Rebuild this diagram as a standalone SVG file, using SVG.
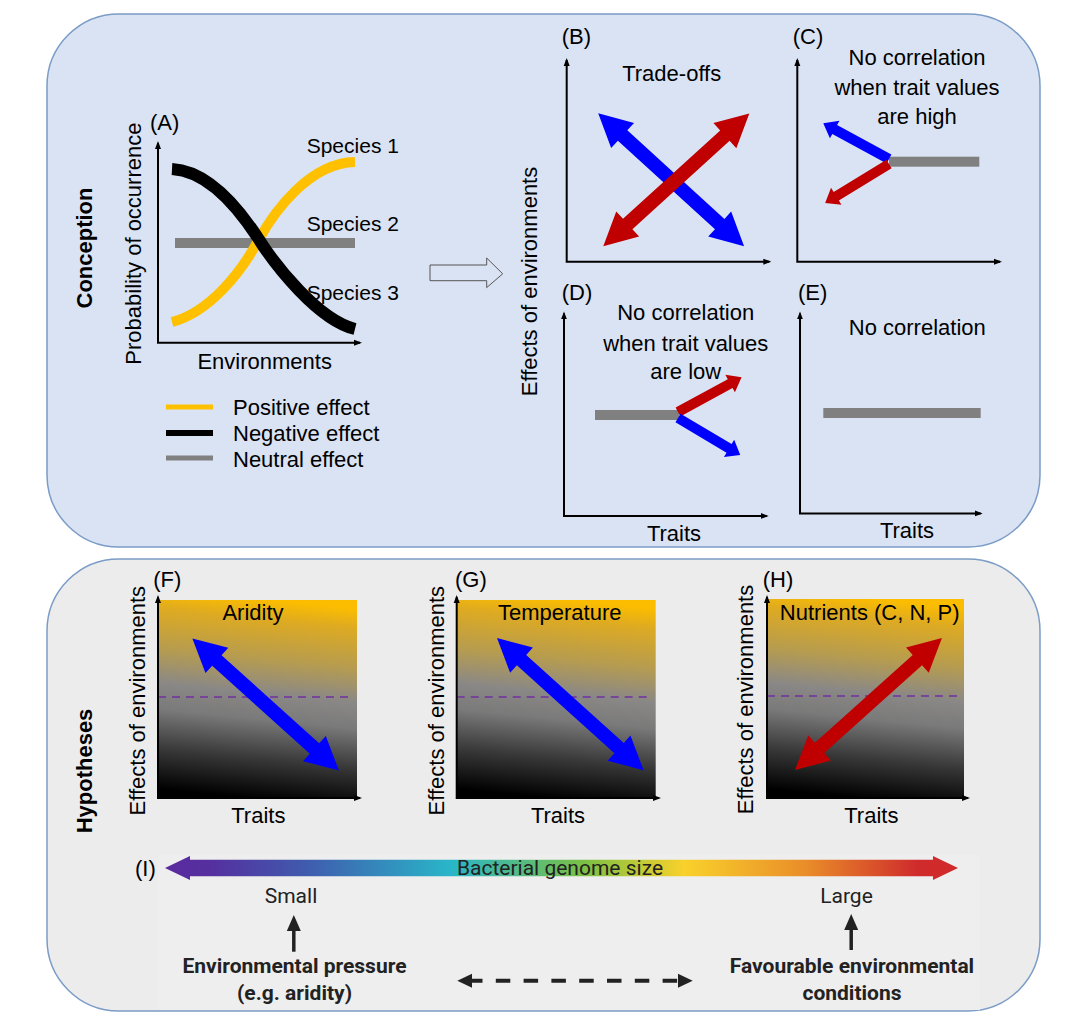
<svg xmlns="http://www.w3.org/2000/svg" xmlns:xlink="http://www.w3.org/1999/xlink" width="1080" height="1026" viewBox="0 0 1080 1026">
<style>
.t{font-family:"Liberation Sans",Arial,sans-serif;font-size:22px;fill:#000}
.m{text-anchor:middle}
.b{font-weight:bold}
.r{font-family:Roboto,"Liberation Sans",sans-serif;font-size:21px;fill:#222}
.ax{stroke:#000;stroke-width:2;fill:none;marker-start:url(#axh);marker-end:url(#axh)}
.blue{fill:#0000ff}
.red{fill:#c00000}
.gray{fill:#808080}
.dash{stroke:#7030a0;stroke-width:1.5;stroke-dasharray:8 6;fill:none}
</style>
<defs>
<marker id="axh" viewBox="0 0 8 8" refX="6" refY="4" markerWidth="8" markerHeight="8" markerUnits="userSpaceOnUse" orient="auto-start-reverse">
<path d="M0,1 L8,4 L0,7 z" fill="#000"/>
</marker>
<polygon id="dbl" points="-98.7,0 -65.7,-17 -65.7,-7 65.7,-7 65.7,-17 98.7,0 65.7,17 65.7,7 -65.7,7 -65.7,17"/>
<polygon id="sgC" points="0,-5 61.8,-5 61.8,-10 74.8,0 61.8,10 61.8,5 0,5"/>
<polygon id="sgD" points="0,-5 59.4,-5 59.4,-10 72.4,0 59.4,10 59.4,5 0,5"/>
<linearGradient id="env" x1="0.56" y1="0" x2="0.46" y2="1">
<stop offset="0" stop-color="#fcbd00"/>
<stop offset="0.1" stop-color="#ddaa22"/>
<stop offset="0.3" stop-color="#b69c50"/>
<stop offset="0.47" stop-color="#8a8886"/>
<stop offset="0.6" stop-color="#7a7a7a"/>
<stop offset="0.8" stop-color="#383838"/>
<stop offset="1" stop-color="#000"/>
</linearGradient>
<linearGradient id="rainbow" gradientUnits="userSpaceOnUse" x1="165" y1="0" x2="958" y2="0">
<stop offset="0" stop-color="#5a2a9e"/>
<stop offset="0.06" stop-color="#55309f"/>
<stop offset="0.18" stop-color="#3f5cae"/>
<stop offset="0.36" stop-color="#29b6c9"/>
<stop offset="0.53" stop-color="#7cc043"/>
<stop offset="0.655" stop-color="#f9d12b"/>
<stop offset="0.81" stop-color="#e98c29"/>
<stop offset="0.95" stop-color="#cf2a2c"/>
<stop offset="1" stop-color="#d22a2a"/>
</linearGradient>
</defs>

<!-- panels -->
<g id="panel-conception">
<rect x="47" y="14" width="993" height="533" rx="72" fill="#dae3f3" stroke="#7b9cc6" stroke-width="1.5"/>
<text class="t b m" transform="translate(92,248) rotate(-90)">Conception</text>
</g>
<g id="panel-hypotheses">
<rect x="47" y="559" width="993" height="452" rx="72" fill="#ececec" stroke="#7b9cc6" stroke-width="1.5"/>
<rect x="158" y="855" width="822" height="155" fill="#eeeeee"/>
<text class="t b m" transform="translate(92,771) rotate(-90)">Hypotheses</text>
</g>

<!-- A -->
<g id="node-A">
<text class="t" x="150" y="130">(A)</text>
<text class="t m" transform="translate(141,243.6) rotate(-90)">Probability of occurrence</text>
<path class="ax" d="M158,143 V342.8 H360"/>
<line x1="175" y1="243" x2="355" y2="243" stroke="#808080" stroke-width="10"/>
<path d="M172,322 C210,312 241,272 258,241 C275,210 310,163 355,162" stroke="#ffc000" stroke-width="10" fill="none"/>
<path d="M172,169 C210,171 241,212 258,238 C275,265 318,320 355,329" stroke="#000" stroke-width="12" fill="none"/>
<text class="t" style="font-size:21px" x="306.7" y="153">Species 1</text>
<text class="t" style="font-size:21px" x="306.7" y="230.7">Species 2</text>
<text class="t" style="font-size:21px" x="306.7" y="299.7">Species 3</text>
<text class="t m" x="264.7" y="369">Environments</text>
<line x1="166" y1="407" x2="213" y2="407" stroke="#ffc000" stroke-width="5"/>
<line x1="166" y1="433" x2="213" y2="433" stroke="#000" stroke-width="6"/>
<line x1="166" y1="458" x2="213" y2="458" stroke="#808080" stroke-width="5"/>
<text class="t" x="233" y="415">Positive effect</text>
<text class="t" x="233" y="441">Negative effect</text>
<text class="t" x="233" y="467">Neutral effect</text>
</g>

<g id="connectors">
<polygon points="430,265 486.7,265 486.7,258 502.7,273.8 486.7,287.6 486.7,280.7 430,280.7" fill="none" stroke="#555" stroke-width="1"/>
<line x1="293.8" y1="951.7" x2="293.8" y2="928" stroke="#222" stroke-width="3.5"/>
<polygon points="293.8,915 300.8,931 286.8,931" fill="#222"/>
<line x1="851.2" y1="950" x2="851.2" y2="927" stroke="#222" stroke-width="3.5"/>
<polygon points="851.2,914 858.2,930 844.2,930" fill="#222"/>
<line x1="468" y1="980.7" x2="680" y2="980.7" stroke="#222" stroke-width="4" stroke-dasharray="14.5 13.3"/>
<polygon points="457.3,980.7 472,973.7 472,987.7" fill="#222"/>
<polygon points="692.7,980.7 678,973.7 678,987.7" fill="#222"/>
</g>

<text class="t m" transform="translate(536.7,281.5) rotate(-90)">Effects of environments</text>

<!-- B -->
<g id="node-B">
<text class="t" x="561.7" y="44">(B)</text>
<path class="ax" d="M566.7,60 V261.7 H769.3"/>
<text class="t m" x="671.7" y="80.7">Trade-offs</text>
<use href="#dbl" class="blue" transform="translate(671.15,179.8) rotate(42.35)"/>
<use href="#dbl" class="red" transform="translate(676.3,179.8) rotate(-42.29)"/>
</g>

<!-- C -->
<g id="node-C">
<text class="t" x="792.7" y="44">(C)</text>
<path class="ax" d="M797.3,60 V261.7 H1000"/>
<text class="t m" x="917" y="65">No correlation</text>
<text class="t m" x="917" y="94.5">when trait values</text>
<text class="t m" x="917" y="124">are high</text>
<rect class="gray" x="889" y="156.7" width="90.3" height="10"/>
<use href="#sgC" class="blue" transform="translate(889,159) rotate(-151.5)"/>
<use href="#sgC" class="red" transform="translate(889,164) rotate(148.6)"/>
</g>

<!-- D -->
<g id="node-D">
<text class="t" x="561.7" y="299.7">(D)</text>
<path class="ax" d="M564,313.4 V515.9 H766.7"/>
<text class="t m" x="685.7" y="320">No correlation</text>
<text class="t m" x="685.7" y="350.5">when trait values</text>
<text class="t m" x="685.7" y="379">are low</text>
<rect class="gray" x="595" y="410" width="84" height="10"/>
<use href="#sgD" class="red" transform="translate(678,412) rotate(-28.6)"/>
<use href="#sgD" class="blue" transform="translate(678,418) rotate(30.7)"/>
<text class="t m" x="674" y="541">Traits</text>
</g>

<!-- E -->
<g id="node-E">
<text class="t" x="798" y="299.7">(E)</text>
<path class="ax" d="M800,313.4 V513.4 H980.7"/>
<text class="t m" x="917.3" y="334.8">No correlation</text>
<rect class="gray" x="823.3" y="408" width="157.4" height="10"/>
<text class="t m" x="907" y="537.6">Traits</text>
</g>

<!-- F -->
<g id="node-F">
<rect x="158" y="600" width="199" height="198" fill="url(#env)"/>
<line class="dash" x1="158" y1="697" x2="353" y2="697"/>
<path class="ax" d="M158,597 V798 H360"/>
<text class="t" x="153.3" y="586.7">(F)</text>
<text class="t m" transform="translate(145,700.7) rotate(-90)">Effects of environments</text>
<text class="t m" x="253" y="620">Aridity</text>
<use href="#dbl" class="blue" transform="translate(265.65,704.5) rotate(42.06)"/>
<text class="t m" x="258.3" y="823.3">Traits</text>
</g>

<!-- G -->
<g id="node-G">
<rect x="456.7" y="600" width="199" height="198" fill="url(#env)"/>
<line class="dash" x1="456.7" y1="697" x2="652" y2="697"/>
<path class="ax" d="M456.7,597 V798 H659"/>
<text class="t" x="455" y="586.7">(G)</text>
<text class="t m" transform="translate(444.3,700.7) rotate(-90)">Effects of environments</text>
<text class="t m" x="559.7" y="620">Temperature</text>
<use href="#dbl" class="blue" transform="translate(570.3,704.15) rotate(42.05)"/>
<text class="t m" x="558" y="823.3">Traits</text>
</g>

<!-- H -->
<g id="node-H">
<rect x="767" y="599" width="197" height="199" fill="url(#env)"/>
<line class="dash" x1="767" y1="696" x2="961" y2="696"/>
<path class="ax" d="M767,597 V798 H968"/>
<text class="t" x="762.7" y="586.7">(H)</text>
<text class="t m" transform="translate(753.3,699.5) rotate(-90)">Effects of environments</text>
<text class="t m" x="869.7" y="620">Nutrients (C, N, P)</text>
<use href="#dbl" class="red" transform="translate(868.5,704) rotate(-41.92)"/>
<text class="t m" x="871.3" y="823">Traits</text>
</g>

<!-- I -->
<g id="node-I">
<text class="t" x="135" y="876">(I)</text>
<polygon points="165,868 190,856 190,859.7 933,859.7 933,856 958,868 933,880 933,876.3 190,876.3 190,880" fill="url(#rainbow)"/>
<text class="r m" x="560" y="875">Bacterial genome size</text>
<text class="r m" x="291" y="903">Small</text>
<text class="r m" x="846.5" y="903">Large</text>
<text class="r m b" x="294.5" y="973">Environmental pressure</text>
<text class="r m b" x="294.5" y="1000">(e.g. aridity)</text>
<text class="r m b" x="852" y="973">Favourable environmental</text>
<text class="r m b" x="852" y="1000">conditions</text>
</g>
</svg>
